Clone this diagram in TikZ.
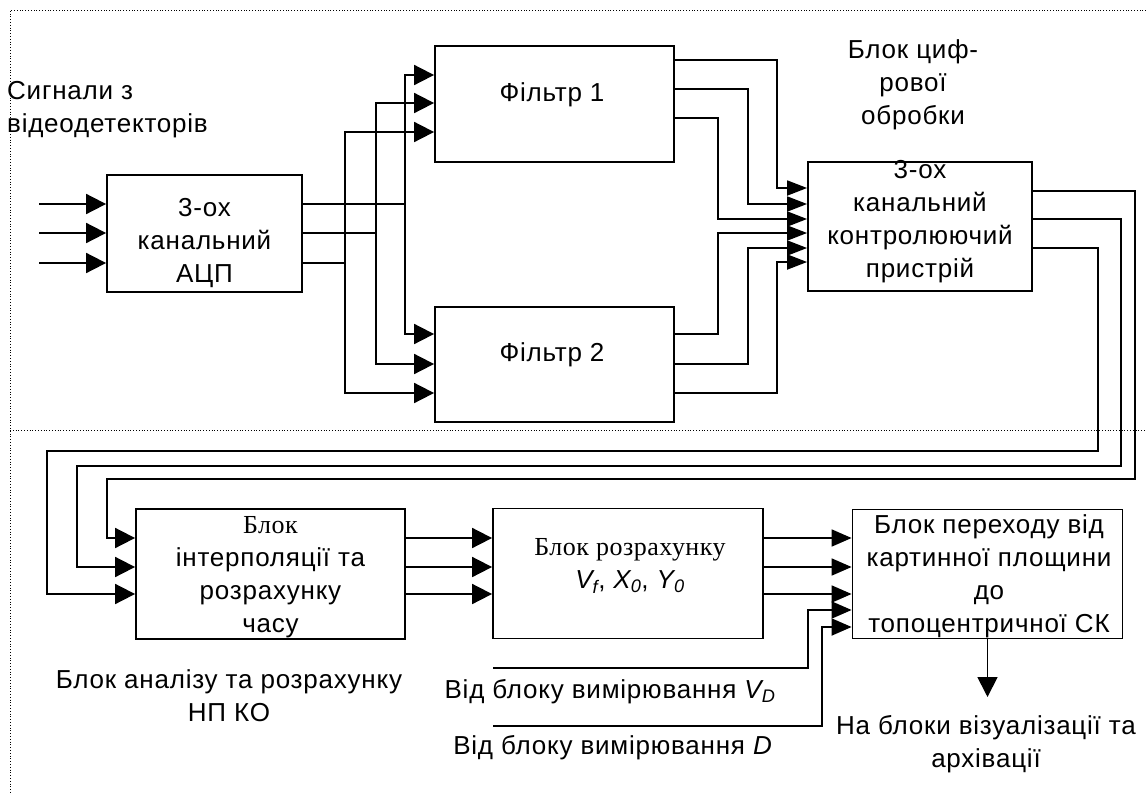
\documentclass[tikz,border=0pt]{standalone}
\usepackage{fontspec}
\setmainfont[LetterSpace=3]{Liberation Sans}
\newfontfamily\serifcyr[LetterSpace=2]{Liberation Serif}
\usetikzlibrary{arrows.meta,positioning,calc}

\begin{document}
\begin{tikzpicture}[
    x=1pt, y=-1pt,
    font=\fontsize{26}{33}\selectfont,
    blok/.style={draw, line width=1.8pt, inner sep=0pt},
    lbl/.style={align=center, inner sep=0pt},
    wire/.style={line width=1.8pt},
    arr/.style={wire, -{Triangle[length=20pt,width=20pt]}},
    arrs/.style={wire, -{Triangle[length=20pt,width=15pt]}},
    arrm/.style={wire, -{Triangle[length=20pt,width=17pt]}},
    frame/.style={dotted, line width=0.8pt}
]
\useasboundingbox (0,0) rectangle (1146,795);
\draw[frame] (1146,10) -- (10,10) -- (10,795);
\draw[frame] (10,430) -- (1146,430);

% blocks
\node[blok, minimum width=195pt, minimum height=117pt] (adc) at (204.5,233.5) {};
\node[blok, minimum width=239pt, minimum height=116pt] (filt1) at (554.5,104) {};
\node[blok, minimum width=239pt, minimum height=115pt] (filt2) at (554.5,364.5) {};
\node[blok, minimum width=224pt, minimum height=129pt] (ctrl) at (920,226.5) {};
\node[blok, minimum width=269pt, minimum height=130pt] (interp) at (270.5,574) {};
\node[blok, minimum width=270pt, minimum height=130pt] (calc) at (628,573.5) {};
\node[blok, minimum width=270pt, minimum height=129pt] (topo) at (987.5,574) {};

% texts
\node[lbl, anchor=west, align=left] (sig) at (7,110) {Сигнали з\\відеодетекторів};
\node[lbl] (adct) at (204.5,243) {3-ох\\канальний\\АЦП};
\node[lbl] (filt1t) at (552,95) {Фільтр 1};
\node[lbl] (filt2t) at (552,355) {Фільтр 2};
\node[lbl] (dsp) at (913,85) {Блок циф-\\рової\\обробки};
\node[lbl] (ctrlt) at (920,222) {3-ох\\канальний\\контролюючий\\пристрій};
\node[lbl] (interpt) at (270.5,577) {{\serifcyr Блок}\\інтерполяції та\\розрахунку\\часу};
\node[lbl] (calct) at (630,566) {{\serifcyr Блок розрахунку}\\\textit{V\textsubscript{f}}, \textit{X\textsubscript{0}}, \textit{Y\textsubscript{0}}};
\node[lbl] (topot) at (989,576) {Блок переходу від\\картинної площини\\до\\топоцентричної СК};
\node[lbl] (npko) at (229,696) {Блок аналізу та розрахунку\\НП КО};
\node[lbl] (vdt) at (610,692) {Від блоку вимірювання \textit{V\textsubscript{D}}};
\node[lbl] (ddt) at (613,748) {Від блоку вимірювання \textit{D}};
\node[lbl] (vis) at (986,744) {На блоки візуалізації та\\архівації};

% free ends
\coordinate (in1) at (39,204);
\coordinate (in2) at (39,233);
\coordinate (in3) at (39,263);
\coordinate (vd) at (493,668);
\coordinate (dd) at (493,726);

% inputs of the ADC
\draw[arr] (in1) -- (in1 -| adc.west);
\draw[arr] (in2) -- (in2 -| adc.west);
\draw[arr] (in3) -- (in3 -| adc.west);

% ADC to both filters
\foreach \xb/\ya/\yf/\yg in {405/204/75/334, 376/233/103/364, 345/263/132/393}{
  \draw[arr] (adc.east |- 0,\ya) -| (\xb,\yf) -- (filt1.west |- 0,\yf);
  \draw[arr] (adc.east |- 0,\ya) -| (\xb,\yg) -- (filt2.west |- 0,\yg);
}

% filters to the control device
\foreach \ys/\xb/\yc in {60/777/188, 89/748/204, 118/718/219}
  \draw[arrs] (filt1.east |- 0,\ys) -| (\xb,\yc) -- (ctrl.west |- 0,\yc);
\foreach \ys/\xb/\yc in {334/718/233, 364/748/248, 393/777/262}
  \draw[arrs] (filt2.east |- 0,\ys) -| (\xb,\yc) -- (ctrl.west |- 0,\yc);

% control device back to interpolation
\draw[arr] (ctrl.east |- 0,191) -| (1135,479) -| (107,538) -- (interp.west |- 0,538);
\draw[arr] (ctrl.east |- 0,219) -| (1121,466) -| (77,567) -- (interp.west |- 0,567);
\draw[arr] (ctrl.east |- 0,248) -| (1098,451) -| (47,594) -- (interp.west |- 0,594);

% lower chain
\foreach \y in {538,567,594}{
  \draw[arr] (interp.east |- 0,\y) -- (calc.west |- 0,\y);
  \draw[arrm] (calc.east |- 0,\y) -- (topo.west |- 0,\y);
}
\draw[arrm] (vd) -| (808,610) -- (topo.west |- 0,610);
\draw[arrm] (dd) -| (822,627) -- (topo.west |- 0,627);
\draw[arr] (topo.south) -- (topo.south |- 0,697);
\end{tikzpicture}
\end{document}
